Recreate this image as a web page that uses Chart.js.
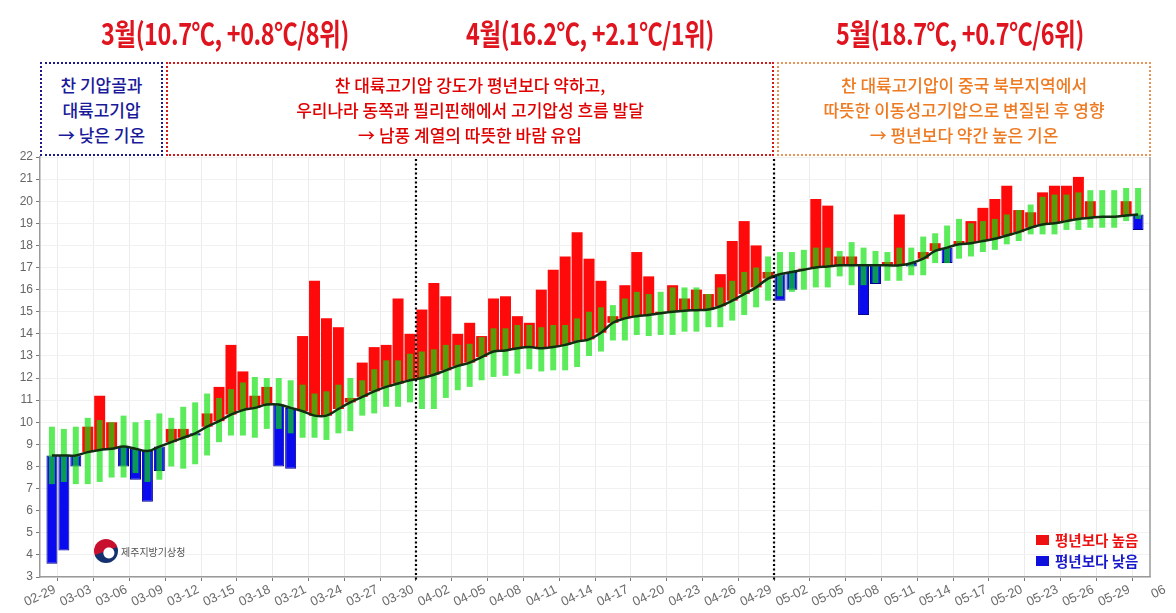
<!DOCTYPE html>
<html>
<head>
<meta charset="utf-8">
<script src="https://cdn.jsdelivr.net/npm/chart.js@4"></script>
<style>
  body { margin: 0; background: #fff; }
  #wrap { position: relative; width: 1176px; height: 613px; overflow: hidden; font-family: 'Noto Sans CJK KR', sans-serif; }
  #chart { position: absolute; left: 0; top: 0; }
  .title { position: absolute; top: 10px; width: 360px; text-align: center; font-size: 30px; font-weight: 700; color: #e0141e; transform: scaleX(0.78); letter-spacing: -0.5px; white-space: nowrap; }
  .box { position: absolute; top: 62px; height: 94px; box-sizing: border-box; display: flex; flex-direction: column; justify-content: center; align-items: center; font-size: 17px; line-height: 25px; font-weight: 500; white-space: nowrap; background: #fff; }
  .legend { position: absolute; left: 1036px; font-size: 14.5px; font-weight: 700; line-height: 18px; white-space: nowrap; }
  .legend span { display: inline-block; width: 13px; height: 10px; margin-right: 6px; vertical-align: 1px; }
  #logo { position: absolute; left: 94px; top: 539px; display: flex; align-items: center; font-size: 10px; color: #555; }
  #logo i { display: inline-block; width: 24px; height: 24px; border-radius: 50%; margin-right: 3px;
            background: radial-gradient(circle at 62% 58%, #fff 0 5px, transparent 6px), linear-gradient(160deg, #c8102e 0 48%, #14306e 52% 100%); }
</style>
</head>
<body>
<div id="wrap">
  <canvas id="chart" width="1176" height="613"></canvas>

  <div class="title" style="left:45px">3월(10.7℃, +0.8℃/8위)</div>
  <div class="title" style="left:410px">4월(16.2℃, +2.1℃/1위)</div>
  <div class="title" style="left:780px">5월(18.7℃, +0.7℃/6위)</div>

  <div class="box" style="left:40px; width:123px; border:2.5px dotted #1a1a8a; color:#1a1a9a">
    <div>찬 기압골과</div><div>대륙고기압</div><div>→ 낮은 기온</div>
  </div>
  <div class="box" style="left:166px; width:608px; border:2.5px dotted #d41a1a; color:#e00000">
    <div>찬 대륙고기압 강도가 평년보다 약하고,</div><div>우리나라 동쪽과 필리핀해에서 고기압성 흐름 발달</div><div>→ 남풍 계열의 따뜻한 바람 유입</div>
  </div>
  <div class="box" style="left:777px; width:374px; border:2.5px dotted #e8955a; color:#ee7a22">
    <div>찬 대륙고기압이 중국 북부지역에서</div><div>따뜻한 이동성고기압으로 변질된 후 영향</div><div>→ 평년보다 약간 높은 기온</div>
  </div>

  <div class="legend" style="top:531px; color:#ee1111"><span style="background:#ee1111"></span>평년보다 높음</div>
  <div class="legend" style="top:552px; color:#1a1acc"><span style="background:#1010dd"></span>평년보다 낮음</div>

  <div id="logo"><i></i>제주지방기상청</div>
</div>

<script>
// daily values 03-01 .. 05-31 (Jeju)
const actual = [
  3.6, 4.2, 8.0, 9.8, 11.2, 10.0, 8.0, 7.4, 6.4, 7.8,
  9.7, 9.7, 9.4, 10.4, 11.6, 13.5, 12.3, 11.2, 11.6, 8.0,
  7.9, 13.9, 16.4, 14.7, 14.3, 11.1, 12.7, 13.4, 13.5, 15.6,
  14.0,
  15.1, 16.3, 15.7, 14.0, 14.5, 13.9, 15.6, 15.7, 14.8, 14.5,
  16.0, 16.9, 17.5, 18.6, 17.4, 16.4, 14.8, 16.2, 17.7, 16.6,
  15.0, 16.2, 15.6, 16.0, 15.8, 16.7, 18.2, 19.1, 18.0, 16.8,
  15.5, 16.0, 16.95, 20.1, 19.8, 17.5, 17.5, 14.85, 16.25, 17.25,
  19.4, 17.05, 17.7, 18.1, 17.2, 18.2, 19.1, 19.7, 20.1, 20.7,
  19.6, 19.5, 20.4, 20.7, 20.7, 21.1, 20.0, 19.3, 19.3, 20.0,
  18.7
];
const normal = [
  8.5, 8.5, 8.5, 8.65, 8.75, 8.8, 8.9, 8.8, 8.7, 8.9,
  9.1, 9.3, 9.5, 9.8, 10.05, 10.35, 10.55, 10.65, 10.8, 10.8,
  10.65, 10.5, 10.3, 10.3, 10.6, 10.9, 11.15, 11.4, 11.6, 11.75,
  11.9,
  12.0, 12.15, 12.35, 12.55, 12.7, 12.95, 13.2, 13.25, 13.35, 13.4,
  13.35, 13.4, 13.5, 13.65, 13.75, 14.05, 14.5, 14.7, 14.8, 14.85,
  14.93, 15.0, 15.05, 15.07, 15.1, 15.25, 15.5, 15.8, 16.1, 16.5,
  16.7, 16.8, 16.9, 17.0, 17.05, 17.1, 17.1, 17.1, 17.1, 17.1,
  17.1, 17.2, 17.4, 17.75, 17.9, 18.05, 18.1, 18.2, 18.3, 18.45,
  18.6, 18.8, 18.95, 19.0, 19.1, 19.2, 19.25, 19.3, 19.3, 19.35,
  19.4
];
const normalLow = [
  7.2, 7.3, 7.2, 7.2, 7.3, 7.5, 7.5, 7.7, 7.3, 7.4,
  8.0, 7.9, 8.1, 8.5, 9.1, 9.4, 9.4, 9.3, 9.7, 9.7,
  9.5, 9.3, 9.3, 9.2, 9.5, 9.6, 10.3, 10.4, 10.7, 10.7,
  10.9,
  10.6, 10.6, 11.1, 11.45, 11.6, 11.9, 12.05, 12.1, 12.2, 12.4,
  12.3, 12.35, 12.35, 12.5, 13.0, 13.2, 13.7, 13.7, 13.95, 13.9,
  13.95, 13.95, 14.1, 14.1, 14.3, 14.3, 14.6, 14.85, 15.2, 15.5,
  15.7, 15.9, 16.0, 16.1, 16.1, 16.6, 16.2, 16.2, 16.3, 16.4,
  16.4, 16.65, 16.65, 17.2, 17.2, 17.4, 17.5, 17.7, 17.8, 18.05,
  18.2, 18.5, 18.5, 18.5, 18.7, 18.7, 18.8, 18.8, 18.8, 19.1,
  19.2
];
const normalHigh = [
  9.8, 9.7, 9.8, 10.2, 10.1, 10.0, 10.3, 10.0, 10.1, 10.4,
  10.2, 10.7, 10.9, 11.3, 11.1, 11.5, 11.8, 12.05, 12.0, 12.0,
  11.9, 11.7, 11.3, 11.4, 11.7, 12.0, 11.9, 12.4, 12.8, 12.8,
  13.1,
  13.2, 13.3, 13.5, 13.5, 13.55, 13.85, 14.25, 14.25, 14.4, 14.4,
  14.3, 14.4, 14.4, 14.7, 15.0, 15.2, 15.3, 15.6, 15.9, 15.8,
  15.9, 16.1, 16.1, 16.1, 15.8, 16.1, 16.4, 16.8, 17.0, 17.5,
  17.7, 17.7, 17.8, 17.9, 17.9, 17.75, 18.15, 17.9, 17.75, 17.7,
  17.9, 17.9, 18.4, 18.55, 18.9, 19.2, 19.0, 19.1, 19.2, 19.4,
  19.6, 19.85, 20.2, 20.3, 20.3, 20.4, 20.5, 20.5, 20.5, 20.6,
  20.6
];

// x categories: 02-29, 03-01 .. 05-31, 06-01
const monthDays = [['03', 31], ['04', 30], ['05', 31]];
const dates = ['02-29'];
monthDays.forEach(([m, n]) => {
  for (let d = 1; d <= n; d++) dates.push(m + '-' + String(d).padStart(2, '0'));
});
dates.push('06-01');
const tickLabels = dates.map((d, i) => (i % 3 === 0 ? d : null));
tickLabels[tickLabels.length - 1] = '06';

const pad = arr => [null, ...arr, null];
const isHigh = actual.map((v, i) => v >= normal[i]);

const sepPlugin = {
  id: 'separators',
  afterDatasetsDraw(chart) {
    const { ctx, chartArea, scales } = chart;
    const x = scales.x;
    ctx.save();
    // right frame line
    ctx.strokeStyle = '#9a9a9a';
    ctx.lineWidth = 1.5;
    ctx.beginPath();
    ctx.moveTo(chartArea.right, chartArea.top);
    ctx.lineTo(chartArea.right, chartArea.bottom);
    ctx.stroke();
    // month boundaries (03-31|04-01, 04-30|05-01)
    ctx.strokeStyle = '#000';
    ctx.lineWidth = 2.2;
    ctx.setLineDash([2, 2.5]);
    [31, 61].forEach(i => {
      const px = (x.getPixelForValue(i) + x.getPixelForValue(i + 1)) / 2;
      ctx.beginPath();
      ctx.moveTo(px, chartArea.top + 2);
      ctx.lineTo(px, chartArea.bottom + 3);
      ctx.stroke();
    });
    ctx.restore();
  }
};

new Chart(document.getElementById('chart'), {
  data: {
    labels: dates,
    datasets: [
      {
        type: 'line',
        data: pad(normal),
        borderColor: '#122e12',
        borderWidth: 2.5,
        pointRadius: 0,
        tension: 0.4,
        order: 0
      },
      {
        type: 'bar',
        data: pad(normalLow.map((v, i) => [v, normalHigh[i]])),
        backgroundColor: 'rgba(10,225,10,0.67)',
        barPercentage: 0.5,
        categoryPercentage: 1,
        grouped: false,
        order: 1
      },
      {
        type: 'bar',
        data: pad(normal.map((v, i) => [v, actual[i]])),
        backgroundColor: pad(isHigh.map(h => (h ? '#ff0a0a' : '#0a0aee'))),
        borderColor: pad(isHigh.map(h => (h ? '#ff0a0a' : '#000090'))),
        borderWidth: pad(isHigh.map(h => (h ? 0 : 1))),
        borderSkipped: false,
        barPercentage: 0.92,
        categoryPercentage: 1,
        grouped: false,
        order: 2
      }
    ]
  },
  options: {
    responsive: false,
    animation: false,
    layout: { padding: { left: 0, right: 26, top: 157, bottom: 0 } },
    plugins: { legend: { display: false }, tooltip: { enabled: false } },
    scales: {
      x: {
        type: 'category',
        offset: false,
        afterFit: s => { s.height = 36; },
        grid: { color: '#ececec', tickColor: '#777', tickLength: 4 },
        border: { color: '#9a9a9a', width: 1.5 },
        ticks: {
          autoSkip: false,
          minRotation: 25,
          maxRotation: 25,
          padding: 1,
          labelOffset: 15,
          color: '#6a6a6a',
          font: { family: 'Liberation Sans', size: 13 },
          callback: (v, i) => tickLabels[i]
        }
      },
      y: {
        min: 3,
        max: 22,
        afterFit: s => { s.width = 40; },
        grid: { color: '#f1f1f1', tickColor: '#777', tickLength: 4 },
        border: { color: '#9a9a9a', width: 1.5 },
        ticks: {
          stepSize: 1,
          padding: 3,
          color: '#666',
          font: { family: 'Liberation Sans', size: 12 }
        }
      }
    }
  },
  plugins: [sepPlugin]
});
</script>
</body>
</html>
